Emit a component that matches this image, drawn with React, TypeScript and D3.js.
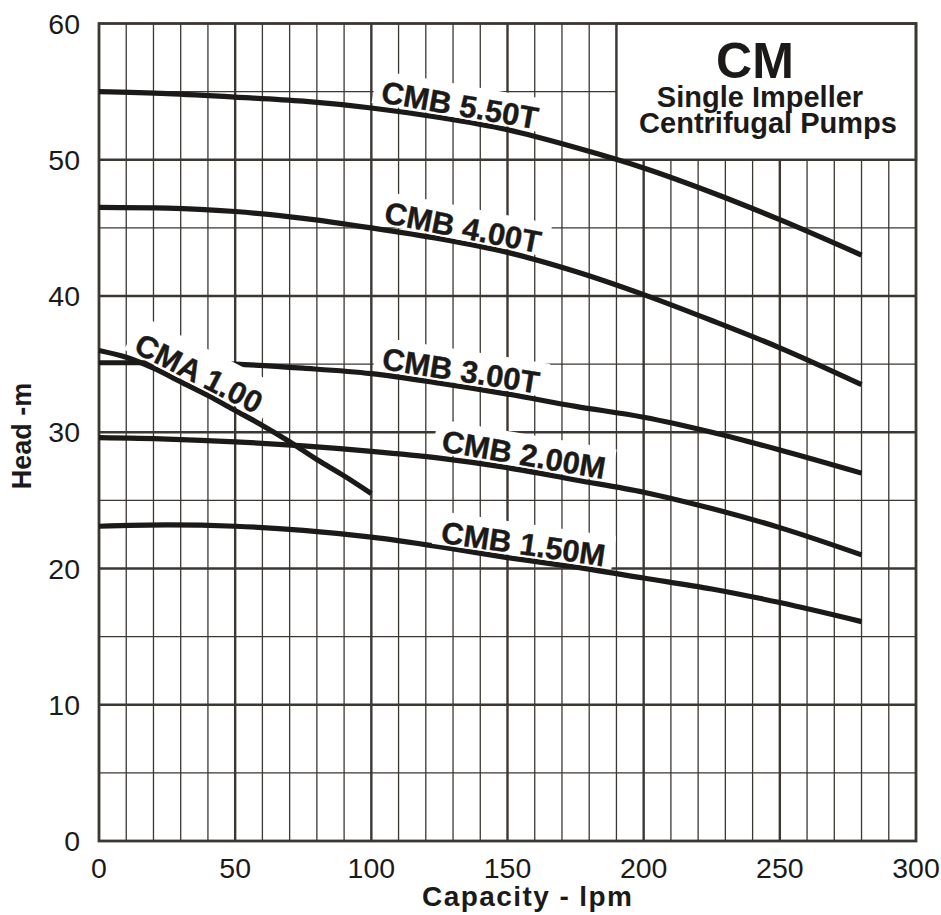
import React, { useEffect, useRef } from "react";
import * as d3 from "d3";

const xTicks = [0, 50, 100, 150, 200, 250, 300];
const yTicks = [0, 10, 20, 30, 40, 50, 60];

const cmbFlow = [0, 25, 50, 75, 100, 125, 150, 175, 200, 225, 250, 280];
const cmb550 = [55.0, 54.85, 54.6, 54.3, 53.8, 53.1, 52.2, 50.9, 49.4, 47.6, 45.6, 43.0];
const cmb400 = [46.5, 46.45, 46.2, 45.7, 45.0, 44.2, 43.2, 41.8, 40.1, 38.2, 36.2, 33.5];
const cmb300 = [35.1, 35.1, 35.0, 34.7, 34.3, 33.6, 32.8, 31.9, 31.1, 30.0, 28.7, 27.0];
const cmb200 = [29.6, 29.5, 29.3, 29.0, 28.6, 28.1, 27.4, 26.5, 25.6, 24.4, 23.0, 21.0];
const cmb150 = [23.1, 23.2, 23.1, 22.8, 22.3, 21.6, 20.8, 20.1, 19.3, 18.5, 17.5, 16.1];

const cmaFlow = [0, 10, 20, 30, 40, 50, 60, 70, 80, 90, 100];
const cma100 = [36.0, 35.5, 34.7, 33.7, 32.7, 31.6, 30.5, 29.3, 28.0, 26.8, 25.5];

const seriesNames = ["CMB 5.50T", "CMB 4.00T", "CMB 3.00T", "CMB 2.00M", "CMB 1.50M", "CMA 1.00"];
const seriesFlows = [cmbFlow, cmbFlow, cmbFlow, cmbFlow, cmbFlow, cmaFlow];
const seriesHeads = [cmb550, cmb400, cmb300, cmb200, cmb150, cma100];
const labelAt = [131.5, 132.5, 132, 155, 155, 34];

const titleLines = ["CM", "Single Impeller", "Centrifugal Pumps"];
const xTitle = "Capacity - lpm";
const yTitle = "Head -m";

const FONT = "'Liberation Sans', Arial, Helvetica, sans-serif";
const GRID = "#3b3733";
const INK = "#1c1a19";

export default function App() {
  const ref = useRef<SVGSVGElement>(null);

  useEffect(() => {
    const svg = d3.select(ref.current);
    svg.selectAll("*").remove();

    const x = d3.scaleLinear().domain([0, 300]).range([99, 916]);
    const y = d3.scaleLinear().domain([0, 60]).range([841, 23.5]);

    svg.append("rect").attr("width", 941).attr("height", 915).attr("fill", "#fff");

    const grid = svg.append("g");
    d3.range(10, 300, 10).forEach((v) => {
      grid.append("line")
        .attr("x1", x(v)).attr("x2", x(v))
        .attr("y1", y(60)).attr("y2", y(0))
        .attr("stroke", GRID)
        .attr("stroke-width", v % 50 === 0 ? 2.4 : 1.3);
    });
    d3.range(5, 60, 5).forEach((v) => {
      grid.append("line")
        .attr("x1", x(0)).attr("x2", x(300))
        .attr("y1", y(v)).attr("y2", y(v))
        .attr("stroke", GRID)
        .attr("stroke-width", v % 10 === 0 ? 2.4 : 1.3);
    });

    // title box
    svg.append("rect")
      .attr("x", x(190)).attr("y", y(60))
      .attr("width", x(300) - x(190)).attr("height", y(50) - y(60))
      .attr("fill", "#fff").attr("stroke", GRID).attr("stroke-width", 2.4);

    svg.append("rect")
      .attr("x", x(0)).attr("y", y(60))
      .attr("width", x(300) - x(0)).attr("height", y(0) - y(60))
      .attr("fill", "none").attr("stroke", GRID).attr("stroke-width", 2.8);

    const tt = svg.append("g").attr("font-family", FONT).attr("font-weight", "bold")
      .attr("fill", INK).attr("text-anchor", "middle");
    tt.append("text").attr("x", 755).attr("y", 78).attr("font-size", 50).text(titleLines[0]);
    tt.append("text").attr("x", 760).attr("y", 107).attr("font-size", 29).text(titleLines[1]);
    tt.append("text").attr("x", 768).attr("y", 133).attr("font-size", 29).text(titleLines[2]);

    // curves
    const line = d3.line<[number, number]>()
      .x((d) => x(d[0])).y((d) => y(d[1]))
      .curve(d3.curveMonotoneX);
    const curves = svg.append("g");
    seriesHeads.forEach((hs, i) => {
      const pts = seriesFlows[i].map((f, j) => [f, hs[j]] as [number, number]);
      curves.append("path").attr("d", line(pts)!)
        .attr("fill", "none").attr("stroke", INK).attr("stroke-width", 5.2)
        .attr("stroke-linecap", "butt");
    });

    // labels
    const interp = (fl: number[], hs: number[], v: number) => {
      for (let j = 0; j < fl.length - 1; j++) {
        if (v >= fl[j] && v <= fl[j + 1]) {
          const t = (v - fl[j]) / (fl[j + 1] - fl[j]);
          return hs[j] + t * (hs[j + 1] - hs[j]);
        }
      }
      return hs[hs.length - 1];
    };
    const fs = 31;
    const capH = fs * 0.72;
    seriesNames.forEach((name, i) => {
      const fl = seriesFlows[i];
      const hs = seriesHeads[i];
      const xc = labelAt[i];
      const px = x(xc);
      const py = y(interp(fl, hs, xc));
      const dx = x(xc + 10) - x(xc - 10);
      const dy = y(interp(fl, hs, xc + 10)) - y(interp(fl, hs, xc - 10));
      const ang = (Math.atan2(dy, dx) * 180) / Math.PI;
      const padTop = i === 5 ? 14 : 9;
      const g = svg.append("g")
        .attr("transform", `translate(${px},${py}) rotate(${ang}) translate(0,-5)`);
      const rect = g.append("rect").attr("fill", "#fff");
      const txt = g.append("text")
        .attr("font-family", FONT).attr("font-weight", "bold").attr("font-size", fs)
        .attr("fill", INK).attr("stroke", INK).attr("stroke-width", 0.4)
        .attr("text-anchor", "middle").attr("x", 0).attr("y", 0)
        .text(name);
      const w = (txt.node() as SVGTextElement).getComputedTextLength();
      rect.attr("x", -w / 2 - 8).attr("y", -capH - padTop)
        .attr("width", w + 16).attr("height", capH + padTop + 2.2);
    });

    // tick labels
    const tk = svg.append("g").attr("font-family", FONT).attr("font-size", 28.5).attr("fill", INK);
    xTicks.forEach((v) => {
      tk.append("text").attr("x", x(v)).attr("y", 878).attr("text-anchor", "middle").text(String(v));
    });
    yTicks.forEach((v) => {
      tk.append("text").attr("x", 80).attr("y", y(v) + 10).attr("text-anchor", "end").text(String(v));
    });

    svg.append("text")
      .attr("x", 527).attr("y", 906)
      .attr("font-family", FONT).attr("font-weight", "bold").attr("font-size", 28)
      .attr("text-anchor", "middle").attr("fill", INK)
      .attr("textLength", 210).attr("lengthAdjust", "spacing")
      .text(xTitle);
    svg.append("text")
      .attr("transform", "translate(31,436) rotate(-90)")
      .attr("font-family", FONT).attr("font-weight", "bold").attr("font-size", 27)
      .attr("text-anchor", "middle").attr("fill", INK).text(yTitle);
  }, []);

  return (
    <svg
      ref={ref}
      width={941}
      height={915}
      style={{ position: "absolute", left: 0, top: 0, display: "block" }}
    />
  );
}
